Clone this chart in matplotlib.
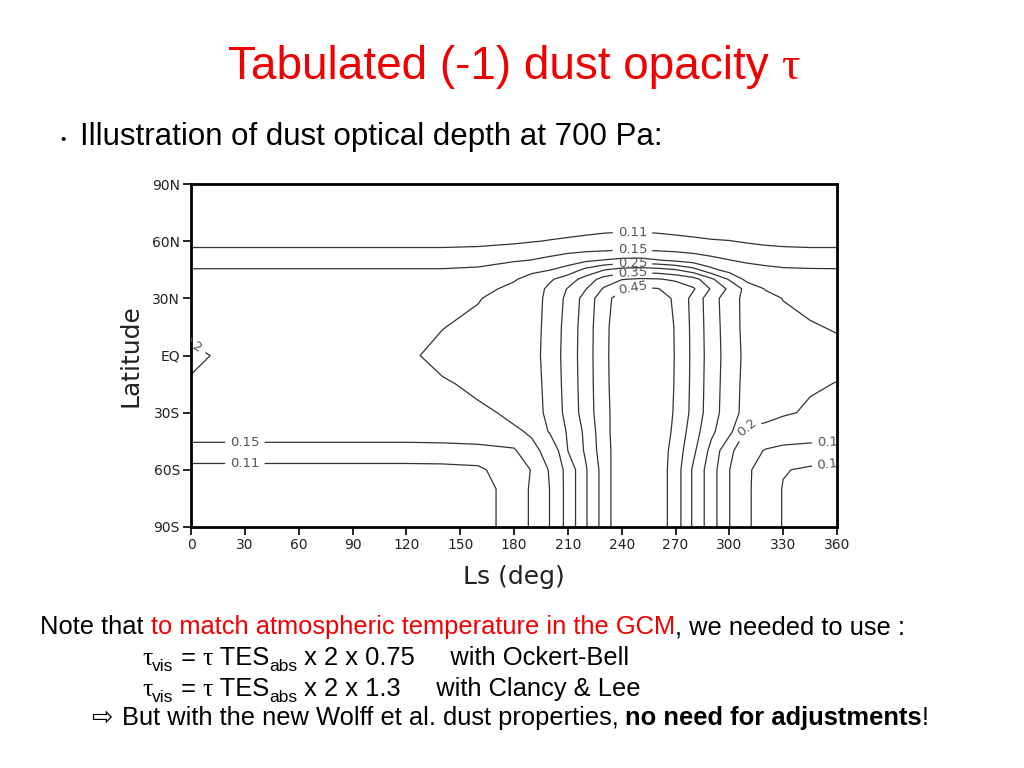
import matplotlib
matplotlib.use("Agg")
import matplotlib.pyplot as plt
import numpy as np

W, H = 1024, 768

# GCM grid: Ls (deg) columns, latitude rows
ls_deg = [0, 15, 30, 60, 90, 120, 140, 160, 180, 190, 200, 210, 220, 230,
          240, 250, 260, 270, 280, 290, 300, 310, 320, 330, 345, 360]
lat_deg = [-90, -70, -60, -50, -40, -30, -15, 0, 15, 30, 35, 40, 45, 50,
           55, 60, 70, 90]

# dust opacity, one row per latitude (same order as lat_deg)
tau_rows = [
    [0.06, 0.06, 0.06, 0.06, 0.06, 0.06, 0.07, 0.09, 0.13, 0.155, 0.201, 0.266, 0.345, 0.42,
     0.495, 0.52, 0.48, 0.425, 0.342, 0.272, 0.201, 0.155, 0.132, 0.108, 0.08, 0.06],
    [0.08, 0.08, 0.08, 0.08, 0.08, 0.08, 0.082, 0.09, 0.13, 0.155, 0.201, 0.266, 0.345, 0.42,
     0.495, 0.52, 0.48, 0.425, 0.342, 0.272, 0.201, 0.155, 0.132, 0.108, 0.09, 0.08],
    [0.10, 0.10, 0.10, 0.10, 0.10, 0.10, 0.101, 0.104, 0.13, 0.152, 0.205, 0.266, 0.345, 0.42,
     0.495, 0.52, 0.48, 0.425, 0.342, 0.272, 0.201, 0.155, 0.135, 0.112, 0.105, 0.10],
    [0.13, 0.13, 0.13, 0.13, 0.13, 0.13, 0.13, 0.132, 0.142, 0.197, 0.2038, 0.30, 0.357, 0.428,
     0.483, 0.52, 0.48, 0.43, 0.36, 0.285, 0.21, 0.17, 0.147, 0.138, 0.132, 0.13],
    [0.175, 0.175, 0.175, 0.175, 0.175, 0.175, 0.178, 0.185, 0.198, 0.2016, 0.2554, 0.305, 0.361, 0.432,
     0.483, 0.515, 0.48, 0.44, 0.373, 0.31, 0.262, 0.19, 0.182, 0.178, 0.176, 0.175],
    [0.186, 0.186, 0.186, 0.186, 0.186, 0.186, 0.19, 0.1962, 0.2034, 0.225, 0.265, 0.315, 0.373, 0.433,
     0.482, 0.51, 0.485, 0.444, 0.385, 0.321, 0.274, 0.23, 0.22, 0.205, 0.195, 0.188],
    [0.195, 0.19, 0.19, 0.19, 0.19, 0.19, 0.197, 0.205, 0.215, 0.228, 0.268, 0.318, 0.375, 0.435,
     0.485, 0.515, 0.49, 0.446, 0.387, 0.323, 0.276, 0.232, 0.218, 0.21, 0.204, 0.199],
    [0.21, 0.196, 0.195, 0.194, 0.194, 0.195, 0.208, 0.215, 0.222, 0.232, 0.27, 0.32, 0.376, 0.436,
     0.486, 0.515, 0.49, 0.447, 0.388, 0.325, 0.278, 0.235, 0.225, 0.22, 0.215, 0.21],
    [0.185, 0.188, 0.19, 0.19, 0.19, 0.19, 0.199, 0.208, 0.218, 0.23, 0.268, 0.318, 0.375, 0.435,
     0.485, 0.515, 0.49, 0.446, 0.387, 0.323, 0.276, 0.232, 0.218, 0.21, 0.203, 0.197],
    [0.185, 0.185, 0.185, 0.185, 0.185, 0.185, 0.19, 0.198, 0.216, 0.228, 0.265, 0.312, 0.37, 0.43,
     0.475, 0.5, 0.48, 0.44, 0.385, 0.32, 0.274, 0.232, 0.212, 0.199, 0.19, 0.185],
    [0.18, 0.18, 0.18, 0.18, 0.18, 0.18, 0.183, 0.19, 0.208, 0.222, 0.262, 0.303, 0.348, 0.405,
     0.443, 0.458, 0.452, 0.43, 0.405, 0.345, 0.29, 0.232, 0.198, 0.19, 0.183, 0.18],
    [0.175, 0.175, 0.175, 0.175, 0.175, 0.175, 0.178, 0.186, 0.197, 0.212, 0.243, 0.275, 0.32, 0.37,
     0.398, 0.406, 0.404, 0.392, 0.37, 0.31, 0.245, 0.185, 0.18, 0.177, 0.176, 0.175],
    [0.1525, 0.1525, 0.1525, 0.1525, 0.1525, 0.1525, 0.1525, 0.157, 0.178, 0.192, 0.198, 0.22, 0.262, 0.297,
     0.318, 0.325, 0.318, 0.302, 0.268, 0.212, 0.18, 0.168, 0.16, 0.155, 0.153, 0.1525],
    [0.13, 0.13, 0.13, 0.13, 0.13, 0.13, 0.13, 0.133, 0.145, 0.151, 0.16, 0.175, 0.19, 0.202,
     0.212, 0.214, 0.203, 0.19, 0.175, 0.162, 0.151, 0.142, 0.137, 0.133, 0.131, 0.13],
    [0.115, 0.115, 0.115, 0.115, 0.115, 0.115, 0.115, 0.117, 0.125, 0.13, 0.135, 0.14, 0.145, 0.149,
     0.152, 0.152, 0.149, 0.145, 0.14, 0.133, 0.127, 0.122, 0.118, 0.116, 0.115, 0.115],
    [0.10, 0.10, 0.10, 0.10, 0.10, 0.10, 0.10, 0.101, 0.104, 0.108, 0.112, 0.116, 0.12, 0.125,
     0.128, 0.128, 0.125, 0.121, 0.117, 0.113, 0.111, 0.107, 0.104, 0.102, 0.10, 0.10],
    [0.08, 0.08, 0.08, 0.08, 0.08, 0.08, 0.08, 0.08, 0.081, 0.082, 0.083, 0.085, 0.088, 0.089,
     0.09, 0.09, 0.089, 0.087, 0.085, 0.083, 0.082, 0.081, 0.08, 0.08, 0.08, 0.08],
    [0.06] * 26,
]

levels = [0.11, 0.15, 0.2, 0.25, 0.3, 0.35, 0.4, 0.45]
# where the contour labels sit (Ls, lat); each snaps to the nearest line
label_spots = [(30, -45.6), (30, -56.7), (246, 64.5), (246, 55.3), (246, 48.4),
               (246, 43.4), (246, 35.8), (310, -38), (357, -45.6), (357, -56.6),
               (0.5, 5.5)]

xticks = list(range(0, 361, 30))
yticks = [-90, -60, -30, 0, 30, 60, 90]
ytick_labels = ['90S', '60S', '30S', 'EQ', '30N', '60N', '90N']

RED = '#f00000'
SANS = 'Liberation Sans'
SERIF = 'Liberation Serif'


def px(x, y):
    return x / W, 1 - y / H


def put_runs(fig, x, y, runs):
    "draw text pieces one after another, starting at pixel x, baseline y"
    r = fig.canvas.get_renderer()
    for txt, kw in runs:
        kw = dict(kw)
        dy = kw.pop('dy', 0)
        fig.text(*px(x, y + dy), txt, va='baseline', **kw)
        probe = fig.text(0, 0, txt + '|', **kw)
        bar = fig.text(0, 0, '|', **kw)
        x += probe.get_window_extent(r).width - bar.get_window_extent(r).width
        probe.remove()
        bar.remove()


fig = plt.figure(figsize=(W / 100, H / 100), dpi=100)
fig.patch.set_facecolor('white')

# contour panel
ax = fig.add_axes([191 / W, 1 - 527 / H, 646 / W, 343 / H])
cs = ax.contour(ls_deg, lat_deg, np.array(tau_rows), levels=levels,
                colors='#333333', linewidths=0.9)
ax.clabel(cs, manual=label_spots, inline=True,
          fontsize=9.5, colors='#555555', fmt=lambda v: f'{v:g}')
ax.set_xlim(0, 360)
ax.set_ylim(-90, 90)
ax.set_xticks(xticks)
ax.set_yticks(yticks)
ax.set_yticklabels(ytick_labels)
ax.tick_params(direction='out', length=6, width=1.2, labelsize=10,
               labelcolor='#222222', pad=2)
for sp in ax.spines.values():
    sp.set_linewidth(2)
ax.set_xlabel('Ls (deg)', fontsize=18, color='#222222')
ax.set_ylabel('Latitude', fontsize=18, color='#222222')
ax.xaxis.label.set_va('center')
ax.yaxis.label.set_va('center')
ax.xaxis.set_label_coords(0.5, (527 - 577) / 343)
ax.yaxis.set_label_coords((131 - 191) / 646, 0.5)

# slide text
put_runs(fig, 228, 79, [("Tabulated (-1) dust opacity ", dict(fontsize=33, color=RED, family=SANS)),
                        ("τ", dict(fontsize=33, color=RED, family=SERIF))])
fig.text(*px(60, 140), "•", fontsize=11, va='center', family=SANS)
put_runs(fig, 80, 145, [("Illustration of dust optical depth at 700 Pa:",
                         dict(fontsize=22.5, family=SANS))])

base = dict(fontsize=18.4, family=SANS, color='black')
sub = dict(fontsize=12.5, family=SANS, color='black', dy=6)
tau = dict(fontsize=18.4, family=SERIF, color='black')
put_runs(fig, 40, 634, [("Note that ", base),
                        ("to match atmospheric temperature in the GCM", dict(base, color=RED)),
                        (", we needed to use :", base)])
for yb, tail in [(665, " x 2 x 0.75     with Ockert-Bell"),
                 (696, " x 2 x 1.3     with Clancy & Lee")]:
    put_runs(fig, 142, yb, [("τ", tau), ("vis", sub), (" = ", base), ("τ", tau),
                            (" TES", base), ("abs", sub), (tail, base)])
put_runs(fig, 92, 725, [("⇨ ", dict(base, family='DejaVu Sans')),
                        ("But with the new Wolff et al. dust properties, ", base),
                        ("no need for adjustments", dict(base, fontweight='bold')),
                        ("!", base)])

fig.savefig('out.png', dpi=100, facecolor='white')
